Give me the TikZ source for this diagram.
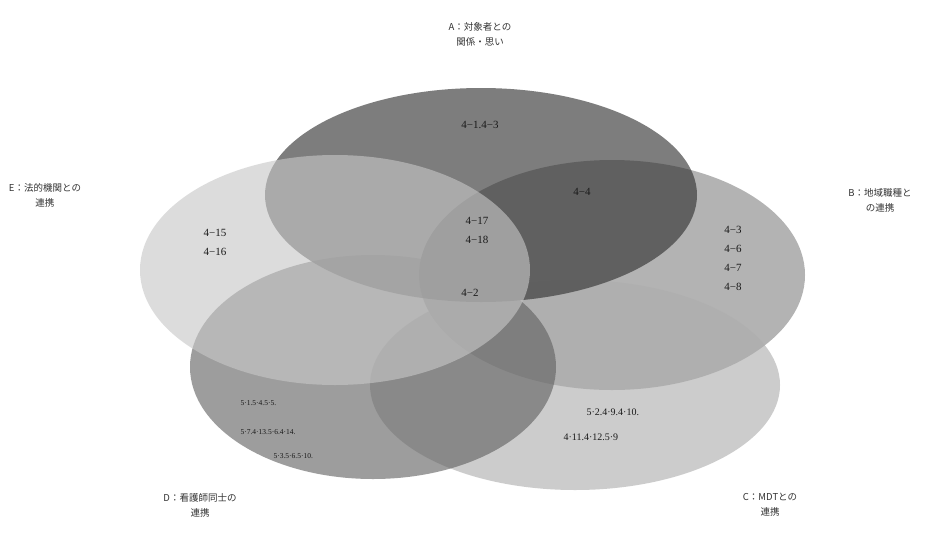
\documentclass[tikz,border=0pt]{standalone}
\usepackage{fontspec}
\setmainfont{Liberation Serif}
\newfontfamily\cjk{Noto Sans CJK JP}
\begin{document}
\begin{tikzpicture}[x=1pt,y=-1pt,
  venn/.style={draw=none,fill opacity=0.62},
  lab/.style={font=\cjk\fontsize{9.5}{15}\selectfont,align=center,text=black!80},
  num/.style={font=\fontsize{11}{19}\selectfont,align=center,text=black!90},
  small/.style={font=\fontsize{7.5}{10}\selectfont,text=black!90}]
\useasboundingbox[fill=white] (0,0) rectangle (933,533);
% ellipses
\fill[venn,fill=black!48] (612,275) ellipse [x radius=193,y radius=115];
\fill[venn,fill=black!32] (575,385) ellipse [x radius=205,y radius=105];
\fill[venn,fill=black!82] (481,195) ellipse [x radius=216,y radius=107];
\fill[venn,fill=black!62] (373,367) ellipse [x radius=183,y radius=112];
\fill[venn,fill=black!22] (335,270) ellipse [x radius=195,y radius=115];
% set labels
\node[lab] (la) at (480,34) {A：対象者との\\関係・思い};
\node[lab] (lb) at (880,200) {B：地域職種と\\の連携};
\node[lab] (lc) at (770,505) {C：MDTとの\\連携};
\node[lab] (ld) at (200,505) {D：看護師同士の\\連携};
\node[lab] (le) at (45,195) {E：法的機関との\\連携};
% region texts
\node[num] (r13) at (480,125) {4−1.4−3};
\node[num] (r44) at (582,192) {4−4};
\node[num] (r17) at (477,230) {4−17\\4−18};
\node[num] (r2) at (470,293) {4−2};
\node[num] (r15) at (215,242) {4−15\\4−16};
\node[num] (rb) at (733,258) {4−3\\4−6\\4−7\\4−8};
\node[small,anchor=west] (rd1) at (237,403) {5·1.5·4.5·5.};
\node[small,anchor=west] (rd2) at (237,432) {5·7.4·13.5·6.4·14.};
\node[small,anchor=west] (rd3) at (270,456) {5·3.5·6.5·10.};
\node[num,anchor=west,font=\fontsize{10}{19}\selectfont] (rc1) at (583,412) {5·2.4·9.4·10.};
\node[num,anchor=west,font=\fontsize{10}{19}\selectfont] (rc2) at (560,437) {4·11.4·12.5·9};
\end{tikzpicture}
\end{document}
